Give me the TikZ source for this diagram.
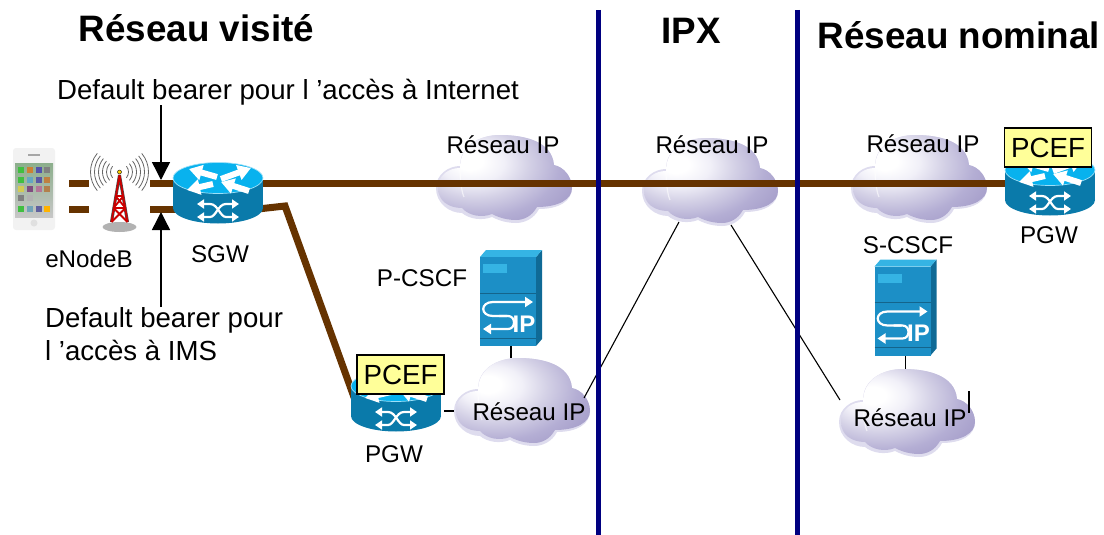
\documentclass[tikz,border=0pt]{standalone}
\usepackage{fontspec}
\setmainfont{Liberation Sans}
\usetikzlibrary{arrows.meta,calc}
\definecolor{brownline}{HTML}{663300}
\definecolor{navyline}{HTML}{000080}
\definecolor{routertop}{HTML}{08B2EE}
\definecolor{routerbody}{HTML}{0A7AAA}
\definecolor{srvfront}{HTML}{1C8FC6}
\definecolor{srvtop}{HTML}{35B4E4}
\definecolor{srvside}{HTML}{0F6A96}
\definecolor{cloudrim}{HTML}{DEDCEE}
\definecolor{cloudA}{HTML}{F1F0F8}
\definecolor{cloudB}{HTML}{D4D1E6}
\definecolor{cloudC}{HTML}{B4AED4}
\definecolor{cloudD}{HTML}{9F97C5}
\definecolor{pcefyellow}{HTML}{FFFF99}
\pgfdeclareradialshading{cloudshade}{\pgfpoint{-14bp}{10bp}}{%
 color(0bp)=(white); color(5bp)=(white); color(12bp)=(cloudA);
 color(20bp)=(cloudB); color(30bp)=(cloudC); color(42bp)=(cloudD); color(100bp)=(cloudD)}
\tikzset{
 x=1pt,y=-1pt,
 place/.style={inner sep=0pt,outer sep=0pt},
 lbl/.style={inner sep=0pt,font=\fontsize{24.2}{28}\selectfont},
 toplbl/.style={inner sep=0pt,font=\fontsize{27.6}{32}\selectfont},
 ttl/.style={inner sep=0pt,font=\fontsize{36.8}{40}\selectfont\bfseries},
 pcef/.style={draw=black,line width=1.4pt,fill=pcefyellow,inner sep=0pt,minimum width=87pt,minimum height=39pt,font=\fontsize{27.7}{30}\selectfont},
 bearer/.style={draw=brownline,line width=7pt},
 divider/.style={draw=navyline,line width=5pt},
 thin link/.style={draw=black,line width=1.1pt},
 pointer/.style={draw=black,line width=1.4pt,-{Triangle[length=18pt,width=18pt]}},
 whitearrow/.style={draw=white,line width=6pt,-{Triangle[length=13pt,width=15pt]}},
 crossarrow/.style={draw=white,line width=2.2pt,{Triangle[length=7pt,width=9pt]}-{Triangle[length=7pt,width=9pt]}},
 cloudpic/.pic={
  \path[fill=cloudrim] (-68,9) .. controls (-68,-5) and (-55,-13) .. (-44,-13)
   .. controls (-44,-33) and (-25,-44) .. (-4,-44)
   .. controls (20,-44) and (48,-38) .. (50,-14)
   .. controls (60,-12) and (68,-2) .. (68,9)
   .. controls (68,22) and (55,30) .. (35,30)
   .. controls (30,40) and (20,44) .. (12,44)
   .. controls (0,44) and (-8,40) .. (-12,38)
   .. controls (-22,42) and (-35,40) .. (-42,34)
   .. controls (-55,34) and (-68,24) .. (-68,9) -- cycle;
  \path[shading=cloudshade] (-66,9) .. controls (-66,-4) and (-55,-11) .. (-44,-11)
   .. controls (-44,-33) and (-25,-44) .. (-4,-44)
   .. controls (20,-44) and (48,-38) .. (50,-14)
   .. controls (60,-12) and (68,-2) .. (68,9)
   .. controls (68,20) and (55,28) .. (33,28)
   .. controls (28,37) and (20,41) .. (12,41)
   .. controls (0,41) and (-8,37) .. (-12,35)
   .. controls (-22,39) and (-35,37) .. (-42,29)
   .. controls (-55,29) and (-66,22) .. (-66,9) -- cycle;
  \draw[white,opacity=.6,line width=1.2pt] (-44,-11) .. controls (-44,2) and (-42,14) .. (-40,18);
 },
 routerpic/.pic={
  \path[fill=routerbody] (-45,-15) -- (45,-15) -- (45,15) -- (-45,15) -- cycle;
  \path[fill=routerbody] (0,15) ellipse[x radius=45,y radius=15.5];
  \path[fill=routertop,draw=white!60!routertop,line width=.7pt] (0,-15) ellipse[x radius=45,y radius=15.5];
  \draw[whitearrow] (-1,-16) -- (-29,-24);
  \draw[whitearrow] (3,-14) -- (33,-25);
  \draw[whitearrow] (-5,-9) -- (-31,-3);
  \draw[whitearrow] (31,-2) -- (3,-11);
  \draw[crossarrow] (-21,11) -- (-8,11) .. controls (0,11) and (2,24) .. (8,24) -- (21,24);
  \draw[crossarrow] (-21,24) -- (-8,24) .. controls (-2,24) and (0,11) .. (8,11) -- (21,11);
 },
 serverpic/.pic={
  \path[fill=srvside] (25,-41) -- (31,-48) -- (31,41) -- (25,48) -- cycle;
  \path[fill=srvtop] (-31,-41) -- (-25,-48) -- (31,-48) -- (25,-41) -- cycle;
  \path[fill=srvfront] (-31,-41) rectangle (25,48);
  \path[fill=srvtop] (-28,-34) rectangle (-4,-25);
  \draw[black!30!srvfront,line width=.8pt] (-31,-5) -- (25,-5) (-31,40) -- (25,40);
  \draw[white,line width=2.2pt,-{Triangle[length=8pt,width=10pt]}] (-4,18) -- (-18,18) .. controls (-31,18) and (-31,4) .. (-18,4) -- (22,4);
  \draw[white,line width=2.2pt,-{Triangle[length=8pt,width=10pt]}] (-12,18) -- (-3,18) .. controls (5,18) and (5,31) .. (-3,31) -- (-28,31);
  \node[inner sep=0pt,text=white,font=\fontsize{24}{24}\selectfont\bfseries] at (13,26) {IP};
 },
 phonepic/.pic={
  \path[fill=black!5,rounded corners=3pt] (-21,-41) rectangle (21,41);
  \path[top color=green!30!black!45,bottom color=black!22] (-19,-26) rectangle (19,28);
  \foreach \px/\py/\cc in {-13/-19/green!50!gray,-4/-19/orange!60!gray,5/-19/blue!35!gray,13/-19/gray,
    -13/-9/green!50!gray,-4/-9/cyan!50!gray,5/-9/blue!30!gray,13/-9/orange!50!gray,
    -13/0/yellow!60!gray,-4/0/violet!40!gray,5/0/magenta!35!gray,13/0/orange!40!gray,
    -13/9/black!50,-4/9/black!30,
    -13/20/green!50!gray,-4/20/cyan!40!gray,5/20/blue!25!gray,13/20/orange!60!yellow}
   \path[fill=\cc] (\px-3.2,\py-3.2) rectangle (\px+3.2,\py+3.2);
  \path[fill=black!35] (-6,-35) rectangle (6,-33);
  \path[fill=black!12] (0,34) circle[radius=3.5];
 },
 antennapic/.pic={
  \path[fill=black!30] (0,55) ellipse[x radius=17,y radius=5];
  \foreach \rr in {9,13,17,21,25,29}{
   \draw[black!60,line width=.8pt] (140:\rr) arc[start angle=140,end angle=220,radius=\rr];
   \draw[black!60,line width=.8pt] (40:\rr) arc[start angle=40,end angle=-40,radius=\rr];
  }
  \draw[black!70,line width=3pt] (0,3) -- (-8,50) (0,3) -- (8,50);
  \draw[red!80!black,line width=1.8pt] (0,3) -- (-8,50) (0,3) -- (8,50)
   (-4,24) -- (4,24) (-6,36) -- (6,36) (-4,24) -- (6,36) (4,24) -- (-6,36) (-6,36) -- (8,50) (6,36) -- (-8,50);
  \path[fill=yellow!70!orange,draw=black] (0,0) circle[radius=2];
 },
}
\begin{document}
\begin{tikzpicture}
\useasboundingbox (0,0) rectangle (1104,535);
% placed shapes
\node[place,minimum width=56pt,minimum height=83pt] (phone) at (41,189) {};
\node[place,minimum width=61pt,minimum height=80pt] (antenna) at (119.5,190) {};
\node[place,minimum width=90pt,minimum height=62pt] (sgw) at (218,193) {};
\node[place,minimum width=90pt,minimum height=62pt] (pgwv) at (396,401) {};
\node[place,minimum width=90pt,minimum height=62pt] (pgwh) at (1050,185) {};
\node[place,minimum width=136pt,minimum height=88pt] (cloudnA) at (504,179) {};
\node[place,minimum width=136pt,minimum height=88pt] (cloudnB) at (710,182) {};
\node[place,minimum width=136pt,minimum height=88pt] (cloudnC) at (919,179) {};
\node[place,minimum width=136pt,minimum height=88pt] (cloudnD) at (522,402) {};
\node[place,minimum width=136pt,minimum height=88pt] (cloudnE) at (907,413) {};
\node[place,minimum width=62pt,minimum height=96pt] (pcscf) at (511,298) {};
\node[place,minimum width=62pt,minimum height=96pt] (scscf) at (905.5,307.5) {};
\coordinate (rowA) at (0,183);
\coordinate (rowB) at (0,209);
\coordinate (bend) at (285,206);
\coordinate (divAtop) at (598,10);
\coordinate (divAbot) at (598,535);
\coordinate (divBtop) at (797,10);
\coordinate (divBbot) at (797,535);
\coordinate (tipA) at (161,180);
\coordinate (tipB) at (161,212);
\coordinate (tickT) at (969,391);
\coordinate (tickB) at (969,413);
% clouds
\foreach \cn in {cloudnA,cloudnB,cloudnC,cloudnD,cloudnE} \pic at (\cn) {cloudpic};
% bearers
\draw[bearer] (phone.east |- rowA) -- (antenna.west |- rowA);
\draw[bearer] (phone.east |- rowB) -- (antenna.west |- rowB);
\draw[bearer] (antenna.east |- rowA) -- ($(sgw.west |- rowA)+(5,0)$);
\draw[bearer] (antenna.east |- rowB) -- ($(sgw.west |- rowB)+(5,0)$);
\draw[bearer] ($(sgw.east |- rowA)+(-5,0)$) -- ($(pgwh.west |- rowA)+(8,0)$);
\draw[bearer,line join=miter] ($(sgw.east |- rowB)+(-5,0)$) -- (bend) -- ($(pgwv.west)+(8,10)$);
% links
\draw[thin link] (pcscf.south) -- (pcscf.south |- cloudnD.north);
\draw[thin link] (scscf.south) -- (scscf.south |- cloudnE.north);
\draw[thin link] ($(pgwv.east)+(3,10)$) -- ($(cloudnD.west)+(0,9)$);
\draw[thin link] ($(cloudnD)+(62,-4)$) -- ($(cloudnB)+(-31,40)$);
\draw[thin link] ($(cloudnB)+(21,43)$) -- ($(cloudnE)+(-67,-13)$);
\draw[thin link] (tickT) -- (tickB);
% devices
\pic at ($(phone)+(-7,0)$) {phonepic};
\pic at ($(antenna)+(0,-18)$) {antennapic};
\pic at (sgw) {routerpic};
\pic at (pgwv) {routerpic};
\pic at (pgwh) {routerpic};
\pic at (pcscf) {serverpic};
\pic at (scscf) {serverpic};
\node[pcef] (pcefv) at (400.5,374.5) {PCEF};
\node[pcef] (pcefh) at (1048,147.5) {PCEF};
% dividers
\draw[divider] (divAtop) -- (divAbot);
\draw[divider] (divBtop) -- (divBbot);
% labels
\node[ttl] (tV) at (196.5,28) {Réseau visité};
\node[ttl] (tI) at (691,31) {IPX};
\node[ttl] (tN) at (959,35) {Réseau nominal};
\node[toplbl] (defA) at (288,92) {Default bearer pour l 'accès à Internet};
\node[toplbl,align=left,anchor=north west] (defB) at (45,307) {Default bearer pour\\[1pt]l 'accès à IMS};
\draw[pointer] (defA.south -| tipA) -- (tipA);
\draw[pointer] (defB.north -| tipB) -- (tipB);
\node[lbl] (lE) at (89,259) {eNodeB};
\node[lbl] (lS) at (220,254) {SGW};
\node[lbl] (lP) at (394,454) {PGW};
\node[lbl] (lQ) at (1049,235) {PGW};
\node[lbl] (lC) at (422,278) {P-CSCF};
\node[lbl] (lD) at (908,245) {S-CSCF};
\node[lbl] (rA) at (503,145) {Réseau IP};
\node[lbl] (rB) at (712,145) {Réseau IP};
\node[lbl] (rC) at (923,144) {Réseau IP};
\node[lbl] (rD) at (529,412) {Réseau IP};
\node[lbl] (rE) at (910,418) {Réseau IP};
\end{tikzpicture}
\end{document}
